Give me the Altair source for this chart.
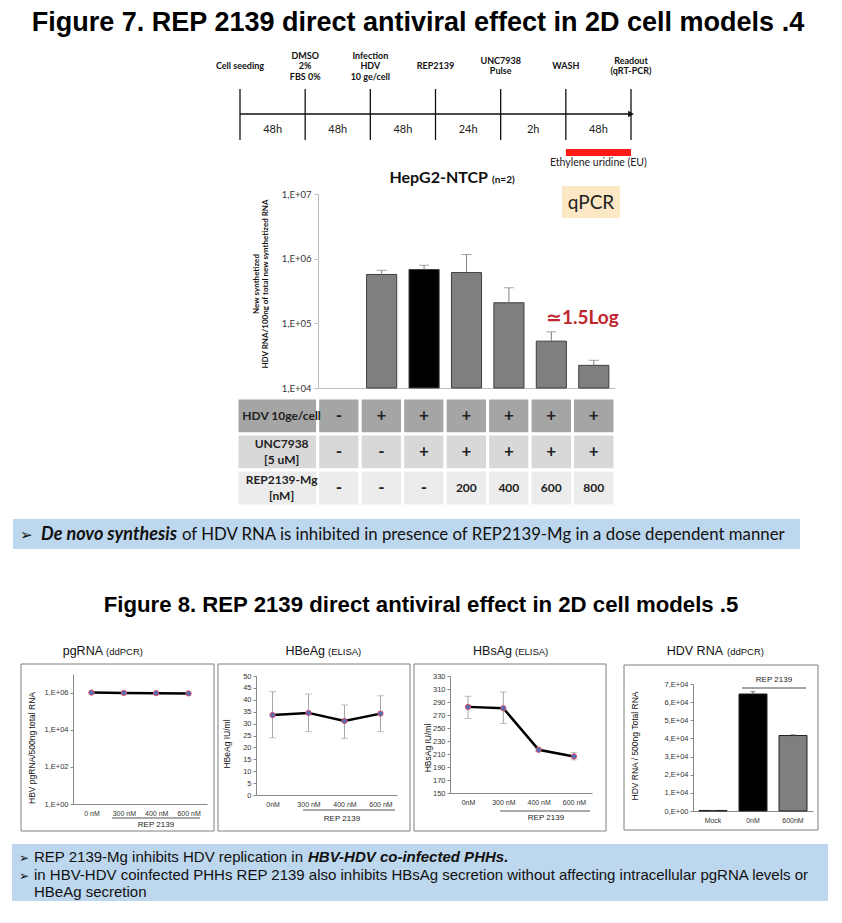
import json
import altair as alt
import pandas as pd

# ------------------------------------------------------------------ text / data
TITLE7 = "Figure 7. REP 2139 direct antiviral effect in 2D cell models .4"
TITLE8 = "Figure 8. REP 2139 direct antiviral effect in 2D cell models .5"

tl_events = [["Cell seeding"], ["DMSO", "2%", "FBS 0%"], ["Infection", "HDV", "10 ge/cell"],
             ["REP2139"], ["UNC7938", "Pulse"], ["WASH"], ["Readout", "(qRT-PCR)"]]
tl_durations = ["48h", "48h", "48h", "24h", "2h", "48h"]
tl_eu_label = "Ethylene uridine (EU)"

hep_title = "HepG2-NTCP"
hep_n = "(n=2)"
qpcr_label = "qPCR"
log_label = "≃1.5Log"
bar_ytitle = ["New synthetized", "HDV RNA/100ng of total new synthetized RNA"]
conditions = ["Mock", "HDV", "HDV+UNC", "REP200", "REP400", "REP600", "REP800"]
bar_values = [None, 5.7e5, 6.8e5, 6.1e5, 2.08e5, 5.3e4, 2.24e4]
bar_err_top = [None, 6.6e5, 7.9e5, 1.16e6, 3.55e5, 7.4e4, 2.68e4]
bar_group = ["none", "grey", "black", "grey", "grey", "grey", "grey"]

table_rows = ["HDV 10ge/cell", "UNC7938 [5 uM]", "REP2139-Mg [nM]"]
table_row_lines = [["HDV 10ge/cell"], ["UNC7938", "[5 uM]"], ["REP2139-Mg", "[nM]"]]
row_hdv = ["-", "+", "+", "+", "+", "+", "+"]
row_unc = ["-", "-", "+", "+", "+", "+", "+"]
row_rep = ["-", "-", "-", "200", "400", "600", "800"]

box1_lead = "De novo synthesis"
box1_rest = "of HDV RNA is inhibited in presence of REP2139-Mg in a dose dependent manner"

pg_doses = ["0 nM", "300 nM", "400 nM", "600 nM"]
pg_values = [1.0e6, 9.6e5, 9.3e5, 9.0e5]
pg_low = [8.6e5, 8.3e5, 8.0e5, 7.8e5]
pg_high = [1.15e6, 1.1e6, 1.07e6, 1.04e6]

elisa_doses = ["0nM", "300 nM", "400 nM", "600 nM"]
hbe_mean = [33.6, 34.5, 31.1, 34.2]
hbe_low = [24.1, 26.6, 23.8, 26.6]
hbe_high = [43.4, 42.4, 37.8, 41.7]
hbs_mean = [282.5, 280.4, 216.5, 206.3]
hbs_low = [264.6, 256.9, 214.0, 201.0]
hbs_high = [298.8, 305.5, 219.0, 212.4]

hdv_groups = ["Mock", "0nM", "600nM"]
hdv_values = [300, 6.45e4, 4.16e4]
hdv_err = [300, 6.58e4, 4.2e4]
hdv_color = ["black", "black", "grey"]

box2_line1a = "REP 2139-Mg inhibits HDV replication in"
box2_line1b = "HBV-HDV co-infected PHHs."
box2_line2 = ("in HBV-HDV coinfected PHHs REP 2139 also inhibits HBsAg secretion "
              "without affecting intracellular pgRNA levels or")
box2_line3 = "HBeAg secretion"

# ------------------------------------------------------------------ helpers
CAL = "Lato, 'DejaVu Sans', sans-serif"
ARIAL = "'Liberation Sans', Arial, 'DejaVu Sans', sans-serif"
ONE = pd.DataFrame({"k": [0]})
W = 826


def frame(x0, x1, y0, y1):
    return alt.Chart(ONE).mark_rect(opacity=0).encode(
        x=alt.value(x0), x2=alt.value(x1), y=alt.value(y0), y2=alt.value(y1))


def spacer(w, h):
    return frame(0, w, 0, h).properties(width=w, height=h)


def rect(x0, x1, y0, y1, fill="transparent", stroke=None, sw=1.0):
    kw = dict(fill=fill)
    if stroke is not None:
        kw.update(stroke=stroke, strokeWidth=sw)
    return alt.Chart(ONE).mark_rect(**kw).encode(
        x=alt.value(x0), x2=alt.value(x1), y=alt.value(y0), y2=alt.value(y1))


def hline(x0, x1, y, color="#555", sw=1.0):
    return alt.Chart(ONE).mark_rule(color=color, strokeWidth=sw).encode(
        x=alt.value(x0), x2=alt.value(x1), y=alt.value(y))


def txt(s, x, y, size, font=CAL, weight="normal", style="normal", color="#222",
        align="left", baseline="alphabetic", angle=0):
    return alt.Chart(ONE).mark_text(
        text=s, font=font, fontSize=size, fontWeight=weight, fontStyle=style,
        color=color, align=align, baseline=baseline, angle=angle).encode(
        x=alt.value(x), y=alt.value(y))


# ------------------------------------------------------------------ row 1: title 7
row1 = alt.layer(
    frame(0, W, 0, 36),
    txt(TITLE7, 410, 23, 27, font=ARIAL, weight="bold", color="#000", align="center"),
).properties(width=W, height=36)

# ------------------------------------------------------------------ row 2: timeline
ev_df = pd.DataFrame({"idx": list(range(len(tl_events)))})
lbl = []
for i, lines in enumerate(tl_events):
    n = len(lines)
    for j, s in enumerate(lines):
        lbl.append({"idx": i, "text": s, "line": j - (n - 1) / 2})
lbl_df = pd.DataFrame(lbl)
seg_df = pd.DataFrame({"s": list(range(len(tl_durations))), "label": tl_durations})
seg_df["e"] = seg_df["s"] + 1

TLSC = alt.Scale(domain=[0, 6], nice=False, zero=False)
TLX = alt.X("idx:Q", scale=TLSC, axis=None)
TLS = alt.X("s:Q", scale=TLSC, axis=None)
TLM = alt.X("mid:Q", scale=TLSC, axis=None)

tl = alt.layer(
    frame(-60, W - 232, 0, 124),
    alt.Chart(ev_df).mark_rule(color="#111", strokeWidth=1.3).encode(
        x=TLX, y=alt.value(45), y2=alt.value(96)),
    alt.Chart(seg_df).mark_rule(color="#111", strokeWidth=1.3).encode(
        x=TLS, x2="e:Q", y=alt.value(70)),
    alt.Chart(ev_df).transform_filter("datum.idx == 6").mark_point(
        shape="triangle-right", filled=True, color="#111", size=45, opacity=1).encode(
        x=TLX, y=alt.value(70)),
    alt.Chart(seg_df).transform_calculate(mid="datum.s + 0.5").mark_text(
        font=CAL, fontSize=11, color="#222", baseline="middle").encode(
        x=TLM, y=alt.value(86), text="label:N"),
    alt.Chart(seg_df).transform_filter("datum.s == 5").mark_rect(color="#ff1a1a").encode(
        x=TLS, x2="e:Q", y=alt.value(105), y2=alt.value(112)),
    alt.Chart(seg_df).transform_filter("datum.s == 5").transform_calculate(
        mid="datum.s + 0.5").mark_text(
        text=tl_eu_label, font=CAL, fontSize=10.5, color="#222", baseline="middle").encode(
        x=TLM, y=alt.value(119)),
    alt.Chart(lbl_df).transform_calculate(ly="22 + datum.line * 10.5").mark_text(
        font=CAL, fontSize=9, fontWeight="bold", color="#111", baseline="middle").encode(
        x=TLX, y=alt.Y("ly:Q", scale=None), text="text:N"),
).properties(width=391, height=124)

# ------------------------------------------------------------------ row 3: bar chart
bar_df = pd.DataFrame({"cond": conditions, "val": bar_values,
                       "err": bar_err_top, "grp": bar_group})
BX = alt.X("cond:N", sort=conditions,
           scale=alt.Scale(domain=conditions, paddingInner=0.29, paddingOuter=0.145),
           axis=alt.Axis(title=None, labels=False, ticks=False, domainColor="#bfbfbf",
                         grid=False))
LOGSC = alt.Scale(type="log", domain=[1e4, 1e7])
BAXIS = alt.Axis(values=[1e4, 1e5, 1e6, 1e7],
                 labelExpr="'1,E+0' + round(log(datum.value) / LN10)",
                 title=None, grid=False, tickSize=4, tickColor="#bfbfbf",
                 domainColor="#bfbfbf", labelFont=CAL, labelFontSize=9.5,
                 labelColor="#333", labelPadding=3)

bars = alt.Chart(bar_df).transform_filter("isValid(datum.val)").transform_calculate(
    fc="datum.grp == 'black' ? '#000000' : '#7f7f7f'").mark_bar(
    stroke="#3f3f3f", strokeWidth=1).encode(
    x=BX, y=alt.Y("val:Q", scale=LOGSC, axis=BAXIS), y2=alt.datum(1e4),
    color=alt.Color("fc:N", scale=None, legend=None))
berr = alt.Chart(bar_df).transform_filter("isValid(datum.val)").mark_rule(
    color="#7f7f7f", strokeWidth=1).encode(
    x=BX, y=alt.Y("val:Q", scale=LOGSC, axis=BAXIS), y2="err:Q")
bcap = alt.Chart(bar_df).transform_filter("isValid(datum.val)").mark_tick(
    color="#7f7f7f", size=10, thickness=1).encode(
    x=BX, y=alt.Y("err:Q", scale=LOGSC, axis=BAXIS))

barchart = alt.layer(
    frame(-80, W - 310, -25, 199),
    bars, berr, bcap,
    txt(hep_title, 170, -11, 16, weight="bold", color="#111", align="right"),
    txt(hep_n, 174, -11, 10, weight="bold", color="#111"),
    rect(244, 302, -8, 24, fill="#fce8c4"),
    txt(qpcr_label, 273, 9, 19, color="#222", align="center", baseline="middle"),
    txt(log_label, 228, 124, 19, weight="bold", color="#c0262d", baseline="middle"),
    txt(bar_ytitle[0], -61, 90, 8, weight="bold", color="#111", align="center",
        baseline="middle", angle=270),
    txt(bar_ytitle[1], -52, 90, 8, weight="bold", color="#111", align="center",
        baseline="middle", angle=270),
).properties(width=297, height=194)

# ------------------------------------------------------------------ row 4: table
cells = []
for r, vals in zip(table_rows, [row_hdv, row_unc, row_rep]):
    cells.append({"row": r, "col": -1, "v": ""})
    for c, v in enumerate(vals):
        cells.append({"row": r, "col": c, "v": v})
cell_df = pd.DataFrame(cells)
lab = []
for r, lines in zip(table_rows, table_row_lines):
    n = len(lines)
    for j, s in enumerate(lines):
        lab.append({"row": r, "text": s,
                    "pos": "single" if n == 1 else ("top" if j == 0 else "bottom")})
lab_df = pd.DataFrame(lab)

TSC = alt.Scale(domain=[-1.9, 7], nice=False, zero=False)
TY = alt.Y("row:N", sort=table_rows,
           scale=alt.Scale(domain=table_rows, paddingInner=0, paddingOuter=0), axis=None)
ROWFILL = ("['#a5a5a5', '#d8d8d8', '#ececec'][indexof(" + json.dumps(table_rows)
           + ", datum.row)]")

tcells = alt.Chart(cell_df).transform_calculate(
    x0="datum.col < 0 ? -1.9 : datum.col", x1="datum.col + 1", fc=ROWFILL).mark_rect(
    stroke="white", strokeWidth=3).encode(
    x=alt.X("x0:Q", scale=TSC, axis=None), x2="x1:Q", y=TY,
    color=alt.Color("fc:N", scale=None, legend=None))
tvals = alt.Chart(cell_df).transform_filter("datum.col >= 0").transform_calculate(
    xm="datum.col + 0.5",
    fs="(datum.v == '+' || datum.v == '-') ? 17 : 12").mark_text(
    font=CAL, fontWeight="bold", color="#222", baseline="middle").encode(
    x=alt.X("xm:Q", scale=TSC, axis=None), y=TY, text="v:N",
    size=alt.Size("fs:Q", scale=None, legend=None))


def tlab(pos, dy):
    return alt.Chart(lab_df).transform_filter(f"datum.pos == '{pos}'").transform_calculate(
        xm="-0.85").mark_text(font=CAL, fontWeight="bold", fontSize=12, color="#222",
                              baseline="middle", dy=dy).encode(
        x=alt.X("xm:Q", scale=TSC, axis=None), y=TY, text="text:N")


table = alt.layer(
    frame(-10, W - 229, -5, 111),
    tcells, tvals, tlab("single", 0), tlab("top", -8), tlab("bottom", 8),
).properties(width=378, height=108)

# ------------------------------------------------------------------ row 5: blue box 1
row5 = alt.layer(
    frame(0, W, 0, 52),
    rect(5, 792, 10, 40, fill="#bdd7ee"),
    txt("➢", 12, 31, 15, color="#111"),
    txt(box1_lead, 33, 30.5, 18, weight="bold", style="italic", color="#111"),
    txt(box1_rest, 174, 30.5, 16.8, color="#111"),
).properties(width=W, height=52)

# ------------------------------------------------------------------ row 6: title 8
row6 = alt.layer(
    frame(0, W, 0, 70),
    txt(TITLE8, 413, 51, 22.2, font=ARIAL, weight="bold", color="#000", align="center"),
).properties(width=W, height=70)

# ------------------------------------------------------------------ row 7: panels
YAX = dict(title=None, grid=False, tickSize=3, tickColor="#888", domainColor="#888",
           labelFont=ARIAL, labelFontSize=7.5, labelColor="#333", labelPadding=2)
XAX = dict(title=None, ticks=False, labelAngle=0, labelFont=ARIAL, labelFontSize=7,
           labelColor="#333", labelPadding=5, domainColor="#888", grid=False)
PT = dict(shape="circle", filled=False, fill="#4f6fb5", fillOpacity=1,
          stroke="#e0506a", strokeWidth=1, size=28, opacity=1)


def line_panel(df, doses, yscale, yaxis, pad, cap):
    X = alt.X("dose:N", sort=doses, scale=alt.Scale(type="point", domain=doses, padding=pad),
              axis=alt.Axis(**XAX))
    Yv = alt.Y("v:Q", scale=yscale, axis=yaxis)
    layers = [
        alt.Chart(df).mark_rule(color="#a6a6a6", strokeWidth=1).encode(
            x=X, y=alt.Y("lo:Q", scale=yscale, axis=yaxis), y2="hi:Q"),
    ]
    if cap:
        layers += [
            alt.Chart(df).mark_tick(color="#a6a6a6", size=cap, thickness=1).encode(
                x=X, y=alt.Y("lo:Q", scale=yscale, axis=yaxis)),
            alt.Chart(df).mark_tick(color="#a6a6a6", size=cap, thickness=1).encode(
                x=X, y=alt.Y("hi:Q", scale=yscale, axis=yaxis)),
        ]
    layers += [
        alt.Chart(df).mark_line(color="black", strokeWidth=2.5).encode(x=X, y=Yv),
        alt.Chart(df).mark_point(**PT).encode(x=X, y=Yv),
    ]
    return layers


pg_df = pd.DataFrame({"dose": pg_doses, "v": pg_values, "lo": pg_low, "hi": pg_high})
P1Y = alt.Scale(type="log", domain=[1, 1e7])
P1A = alt.Axis(values=[1, 100, 1e4, 1e6],
               labelExpr="'1,E+' + (round(log(datum.value)/LN10) < 10 ? '0' : '') + round(log(datum.value)/LN10)",
               **YAX)
p1 = alt.layer(
    frame(9 - 73, 216 - 73, -42, 162),
    rect(-52, 141, -10, 157, stroke="#7f7f7f"),
    *line_panel(pg_df, pg_doses, P1Y, P1A, 0.57, 0),
    txt("pgRNA", 30, -19, 12.5, font=ARIAL, color="#111", align="right"),
    txt("(ddPCR)", 33, -19, 9.5, font=ARIAL, color="#111"),
    txt("HBV pgRNA/500ng total RNA", -41, 74, 8.5, font=ARIAL, color="#111",
        align="center", baseline="middle", angle=270),
    hline(39, 127, 144),
    txt("REP 2139", 83, 153, 8, font=ARIAL, color="#222", align="center"),
).properties(width=134, height=130)

hbe_df = pd.DataFrame({"dose": elisa_doses, "v": hbe_mean, "lo": hbe_low, "hi": hbe_high})
P2Y = alt.Scale(domain=[0, 50], nice=False, zero=True)
P2A = alt.Axis(values=list(range(0, 55, 5)), **YAX)
p2 = alt.layer(
    frame(216 - 256, 412 - 256, -44, 160),
    rect(-38, 154, -12, 155, stroke="#7f7f7f"),
    *line_panel(hbe_df, elisa_doses, P2Y, P2A, 0.46, 7),
    txt("HBeAg", 69, -21, 12.5, font=ARIAL, color="#111", align="right"),
    txt("(ELISA)", 72, -21, 9.5, font=ARIAL, color="#111"),
    txt("HBeAg IU/ml", -29, 68, 8.5, font=ARIAL, color="#111",
        align="center", baseline="middle", angle=270),
    hline(47, 139, 134),
    txt("REP 2139", 86, 145, 8, font=ARIAL, color="#222", align="center"),
).properties(width=141, height=119)

hbs_df = pd.DataFrame({"dose": elisa_doses, "v": hbs_mean, "lo": hbs_low, "hi": hbs_high})
P3Y = alt.Scale(domain=[150, 330], nice=False, zero=False)
P3A = alt.Axis(values=list(range(150, 331, 20)), **YAX)
p3 = alt.layer(
    frame(412 - 450, 616 - 450, -44, 160),
    rect(-36, 156, -12, 155, stroke="#7f7f7f"),
    *line_panel(hbs_df, elisa_doses, P3Y, P3A, 0.51, 7),
    txt("HBsAg", 62, -21, 12.5, font=ARIAL, color="#111", align="right"),
    txt("(ELISA)", 65, -21, 9.5, font=ARIAL, color="#111"),
    txt("HBsAg IU/ml", -22, 72, 8.5, font=ARIAL, color="#111",
        align="center", baseline="middle", angle=270),
    hline(50, 140, 135),
    txt("REP 2139", 96, 144, 8, font=ARIAL, color="#222", align="center"),
).properties(width=142, height=117)

hdv_df = pd.DataFrame({"grp": hdv_groups, "v": hdv_values, "err": hdv_err, "col": hdv_color})
P4X = alt.X("grp:N", sort=hdv_groups,
            scale=alt.Scale(domain=hdv_groups, paddingInner=0.3, paddingOuter=0.15),
            axis=alt.Axis(**XAX))
P4Y = alt.Scale(domain=[0, 7e4], nice=False)
P4A = alt.Axis(values=[i * 1e4 for i in range(8)],
               labelExpr="datum.value == 0 ? '0,E+00' : format(datum.value / 10000, 'd') + ',E+04'",
               **YAX)
p4 = alt.layer(
    frame(616 - 693, 834 - 693, -52, 152),
    rect(-69, 125, -19, 146, stroke="#7f7f7f"),
    alt.Chart(hdv_df).transform_calculate(
        fc="datum.col == 'black' ? '#000000' : '#7f7f7f'").mark_bar(
        stroke="#222", strokeWidth=1).encode(
        x=P4X, y=alt.Y("v:Q", scale=P4Y, axis=P4A),
        color=alt.Color("fc:N", scale=None, legend=None)),
    alt.Chart(hdv_df).mark_rule(color="#555", strokeWidth=1).encode(
        x=P4X, y=alt.Y("v:Q", scale=P4Y, axis=P4A), y2="err:Q"),
    alt.Chart(hdv_df).mark_tick(color="#555", size=5, thickness=1).encode(
        x=P4X, y=alt.Y("err:Q", scale=P4Y, axis=P4A)),
    txt("HDV RNA", 30, -29, 12.5, font=ARIAL, color="#111", align="right"),
    txt("(ddPCR)", 34, -29, 9.5, font=ARIAL, color="#111"),
    txt("HDV RNA / 500ng Total RNA", -58, 62, 8.5, font=ARIAL, color="#111",
        align="center", baseline="middle", angle=270),
    hline(49, 113, 4, color="#a6a6a6", sw=2),
    txt("REP 2139", 81, -2, 8, font=ARIAL, color="#222", align="center"),
).properties(width=120, height=127)


def vcell(p):
    return alt.vconcat(spacer(1, 1), p, spacing=0)


row7 = alt.hconcat(spacer(1, 1), vcell(p1), vcell(p2), vcell(p3), vcell(p4), spacing=0)

# ------------------------------------------------------------------ row 8: blue box 2
row8 = alt.layer(
    frame(0, W, 0, 80),
    rect(4, 820, 8, 65, fill="#bdd7ee"),
    txt("➢", 11, 26, 12, color="#111"),
    txt(box2_line1a, 26, 26, 15, font=ARIAL, color="#111"),
    txt(box2_line1b, 300, 26, 15, font=ARIAL, weight="bold", style="italic", color="#111"),
    txt("➢", 11, 44, 12, color="#111"),
    txt(box2_line2, 26, 44, 15, font=ARIAL, color="#111"),
    txt(box2_line3, 26, 61, 15, font=ARIAL, color="#111"),
).properties(width=W, height=80)

chart = alt.vconcat(
    row1,
    alt.hconcat(spacer(172, 1), tl, spacing=0),
    alt.hconcat(spacer(230, 1), barchart, spacing=0),
    alt.hconcat(spacer(219, 1), table, spacing=0),
    row5, row6, row7, row8, spacing=0,
).properties(padding=0, background="white").configure_view(stroke=None)

chart.save("out.html", embed_options={"renderer": "svg", "actions": False})
